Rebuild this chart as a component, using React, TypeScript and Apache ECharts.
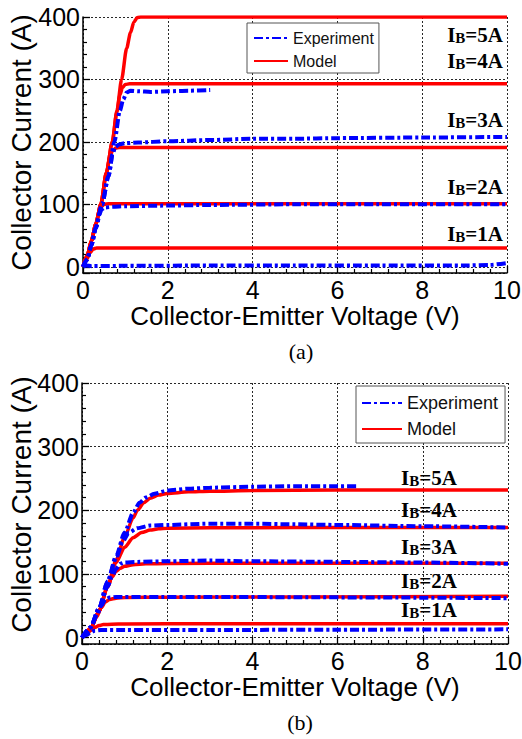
import React, { useEffect, useRef } from 'react';
import * as echarts from 'echarts';

type Pt = [number, number];

// ---------- (a) Model (red) ----------
const aModel5A: Pt[] = [[0, 0], [0.1, 18], [0.2, 42], [0.3, 68], [0.42, 100], [0.55, 150], [0.69, 200], [0.8, 250], [0.91, 300], [1.03, 350], [1.12, 375], [1.2, 392], [1.28, 399], [1.36, 400], [10, 400]];
const aModel4A: Pt[] = [[0, 0], [0.1, 18], [0.2, 42], [0.3, 68], [0.42, 100], [0.55, 150], [0.69, 200], [0.8, 248], [0.87, 275], [0.93, 287], [1.0, 292], [1.1, 293], [10, 293]];
const aModel3A: Pt[] = [[0, 0], [0.1, 18], [0.2, 42], [0.3, 68], [0.42, 100], [0.55, 150], [0.64, 178], [0.7, 186], [0.77, 190], [0.85, 191], [10, 191]];
const aModel2A: Pt[] = [[0, 0], [0.1, 18], [0.2, 42], [0.3, 68], [0.38, 88], [0.43, 96], [0.5, 100], [0.6, 101], [10, 101]];
const aModel1A: Pt[] = [[0, 0], [0.1, 13], [0.17, 23], [0.24, 28.5], [0.32, 30], [10, 30]];

// ---------- (a) Experiment (blue) ----------
const aExp1: Pt[] = [[0, 0], [0.1, 12], [0.2, 35], [0.3, 62], [0.45, 100], [0.6, 145], [0.74, 200], [0.87, 250], [0.95, 268], [1.03, 279], [1.12, 282], [1.3, 281], [1.6, 280], [2, 281], [2.5, 282], [3, 283]];
const aExp2: Pt[] = [[0, 0], [0.1, 12], [0.2, 35], [0.3, 62], [0.45, 100], [0.6, 145], [0.7, 180], [0.76, 192], [0.85, 196], [1.0, 198], [1.3, 199], [2, 201], [3, 203], [4, 205], [5, 205], [6, 206], [8, 207], [10, 208]];
const aExp3: Pt[] = [[0, 0], [0.1, 12], [0.2, 35], [0.3, 62], [0.38, 83], [0.44, 92], [0.52, 95], [0.7, 96], [1, 97], [2, 98], [3, 99], [5, 100], [7, 100], [10, 100]];
const aExp4: Pt[] = [[0, 0], [0.08, 2], [0.2, 1], [1, 1.5], [3, 2], [5, 2], [7, 2], [9, 2], [9.6, 3], [10, 6]];

// ---------- (b) Model (red) ----------
const bModel5A: Pt[] = [[0, 0], [0.2, 14], [0.4, 42], [0.6, 80], [0.8, 122], [1.0, 158], [1.2, 188], [1.3, 200], [1.45, 212], [1.6, 219], [1.8, 224], [2, 226.5], [2.5, 229], [3, 230], [4, 231], [6, 232], [10, 232]];
const bModel4A: Pt[] = [[0, 0], [0.2, 14], [0.4, 42], [0.6, 80], [0.8, 118], [1.0, 142], [1.2, 157], [1.4, 165], [1.6, 169], [1.8, 171], [2, 172], [3, 172.5], [5, 173], [10, 173]];
const bModel3A: Pt[] = [[0, 0], [0.2, 14], [0.4, 42], [0.6, 80], [0.7, 95], [0.8, 104], [0.9, 109], [1.0, 112], [1.2, 114.5], [1.5, 116], [2, 116.5], [4, 117], [10, 117]];
const bModel2A: Pt[] = [[0, 0], [0.2, 14], [0.35, 33], [0.45, 47], [0.55, 56], [0.65, 60], [0.8, 62], [1, 63], [2, 63.5], [5, 64], [10, 65]];
const bModel1A: Pt[] = [[0, 0], [0.1, 5], [0.2, 11], [0.3, 16], [0.4, 19], [0.5, 20.5], [0.7, 21], [1, 21.5], [3, 22], [10, 22]];

// ---------- (b) Experiment (blue) ----------
const bExp5A: Pt[] = [[0, 0], [0.2, 16], [0.4, 46], [0.6, 88], [0.8, 128], [1.0, 165], [1.2, 196], [1.35, 212], [1.5, 220], [1.7, 226], [2, 231], [2.5, 234], [3, 235.5], [4, 237], [5, 238], [6, 238], [6.5, 238]];
const bExp4A: Pt[] = [[0, 0], [0.2, 16], [0.4, 46], [0.6, 88], [0.8, 125], [0.95, 150], [1.1, 165], [1.3, 172], [1.6, 176], [2, 177], [3, 179], [4, 179], [5, 178], [6, 177], [8, 175], [10, 173]];
const bExp3A: Pt[] = [[0, 0], [0.2, 16], [0.4, 46], [0.6, 80], [0.7, 95], [0.8, 108], [0.9, 116], [1.0, 118], [1.3, 119], [2, 120], [3, 121], [4, 120], [6, 119], [8, 118], [10, 116]];
const bExp2A: Pt[] = [[0, 0], [0.2, 16], [0.35, 35], [0.45, 50], [0.55, 60], [0.65, 63], [0.8, 64], [1.5, 64], [3, 64], [5, 63.5], [7, 63], [10, 62]];
const bExp1A: Pt[] = [[0, 0], [0.1, 4], [0.2, 8], [0.3, 11], [0.45, 12], [1, 12], [3, 12], [6, 12.5], [10, 13]];

const legendNames = ['Experiment', 'Model'];
const baseCurrents = ['5A', '4A', '3A', '2A', '1A'];
const xAxisTitle = 'Collector-Emitter Voltage (V)';
const yAxisTitle = 'Collector Current (A)';
const panelTitles = ['(a)', '(b)'];

// layout (pixel positions of annotation labels)
const labelYA = [35, 61, 120, 187, 234];
const labelYB = [478, 510, 547, 581, 610];

const SANS = 'Liberation Sans, Arial, Helvetica, sans-serif';
const SERIF = 'Liberation Serif, Times New Roman, serif';
const RED = '#ff0000';
const BLUE = '#0000ff';

export default function App() {
  const ref = useRef<HTMLDivElement>(null);

  useEffect(() => {
    if (!ref.current) return;
    const chart = echarts.init(ref.current, null, { renderer: 'svg' });

    const gridLineStyle = { color: '#111', width: 1, type: [2, 2], opacity: 0.9 };

    const xAxisBase = (gridIndex: number) => ({
      type: 'value',
      gridIndex,
      min: 0,
      max: 10,
      interval: 2,
      z: 1,
      name: xAxisTitle,
      nameLocation: 'middle',
      nameGap: 30,
      nameMoveOverlap: false,
      nameTextStyle: { fontSize: 26, color: '#000', fontFamily: SANS },
      axisLine: { show: true, onZero: false, lineStyle: { color: '#000', width: 1.5 } },
      axisTick: { show: true, inside: true, length: 7, lineStyle: { color: '#000', width: 1.3 } },
      minorTick: { show: true, splitNumber: 5, length: 4, lineStyle: { color: '#000', width: 1.2 } },
      splitLine: { show: true, lineStyle: gridLineStyle },
      axisLabel: { fontSize: 25, color: '#000', fontFamily: SANS, margin: 4 },
    });

    const yAxisBase = (gridIndex: number, gap: number, pad: number[]) => ({
      type: 'value',
      gridIndex,
      min: -10,
      max: 400,
      splitNumber: 5,
      z: 1,
      name: yAxisTitle,
      nameLocation: 'middle',
      nameGap: gap,
      nameMoveOverlap: false,
      nameTextStyle: { fontSize: 28, color: '#000', fontFamily: SANS, padding: pad },
      axisLine: { show: true, onZero: false, lineStyle: { color: '#000', width: 1.5 } },
      axisTick: { show: true, inside: true, length: 7, lineStyle: { color: '#000', width: 1.3 } },
      minorTick: { show: true, splitNumber: 5, length: 4, lineStyle: { color: '#000', width: 1.2 } },
      splitLine: { show: true, lineStyle: gridLineStyle },
      axisLabel: {
        fontSize: 25,
        color: '#000',
        fontFamily: SANS,
        margin: 3,
        formatter: (v: number) => (v < 0 ? '' : String(v)),
      },
    });

    const modelSeries = (data: Pt[], idx: number) => ({
      type: 'line',
      name: 'Model',
      xAxisIndex: idx,
      yAxisIndex: idx,
      data,
      symbol: 'none',
      smooth: 0.25,
      smoothMonotone: 'x',
      lineStyle: { color: RED, width: 3.5 },
      itemStyle: { color: RED },
      z: 2,
    });
    const expSeries = (data: Pt[], idx: number) => ({
      type: 'line',
      name: 'Experiment',
      xAxisIndex: idx,
      yAxisIndex: idx,
      data,
      symbol: 'none',
      smooth: 0.25,
      smoothMonotone: 'x',
      lineStyle: { color: BLUE, width: 4, type: [9, 3, 3, 3], cap: 'butt' },
      itemStyle: { color: BLUE },
      z: 3,
    });

    const ibLabel = (cur: string, x: number, y: number, align: string) => ({
      type: 'text',
      x,
      y,
      z: 10,
      style: {
        text: `{i|I}{s|B}{i|=${cur}}`,
        align,
        verticalAlign: 'middle',
        rich: {
          i: { fontSize: 21, fontWeight: 'bold', fontFamily: SERIF, fill: '#000', color: '#000', lineHeight: 21, verticalAlign: 'bottom' },
          s: { fontSize: 15, fontWeight: 'bold', fontFamily: SERIF, fill: '#000', color: '#000', lineHeight: 15, verticalAlign: 'bottom' },
        },
      },
    });

    const graphics: any[] = [];
    baseCurrents.forEach((c, i) => graphics.push(ibLabel(c, 503, labelYA[i], 'right')));
    baseCurrents.forEach((c, i) => graphics.push(ibLabel(c, 401, labelYB[i], 'left')));
    graphics.push({
      type: 'text', x: 301, y: 351,
      style: { text: panelTitles[0], font: `22px ${SERIF}`, fill: '#000', align: 'center', verticalAlign: 'middle' },
    });
    graphics.push({
      type: 'text', x: 300, y: 722,
      style: { text: panelTitles[1], font: `22px ${SERIF}`, fill: '#000', align: 'center', verticalAlign: 'middle' },
    });

    const legendBase = {
      data: legendNames,
      orient: 'vertical',
      itemHeight: 14,
      backgroundColor: '#fff',
      borderColor: '#555',
      borderWidth: 1,
      borderRadius: 0,
      selectedMode: false,
      itemStyle: { opacity: 0, borderWidth: 0 },
    };

    const option: any = {
      animation: false,
      grid: [
        { left: 83, top: 17, width: 424, height: 256, containLabel: false, outerBoundsMode: 'none' },
        { left: 82, top: 383, width: 426, height: 261, containLabel: false, outerBoundsMode: 'none' },
      ],
      xAxis: [xAxisBase(0), xAxisBase(1)],
      yAxis: [yAxisBase(0, 48, [0, 0, 0, 5]), yAxisBase(1, 47, [0, 0, 0, 18])],
      legend: [
        {
          ...legendBase,
          left: 247,
          top: 23,
          padding: [7, 5, 4, 6],
          itemGap: 7,
          itemWidth: 34,
          textStyle: { fontSize: 16, color: '#111', fontFamily: SANS },
        },
        {
          ...legendBase,
          left: 356,
          top: 386,
          padding: [8, 7, 5, 5],
          itemGap: 8,
          itemWidth: 40,
          textStyle: { fontSize: 18, color: '#111', fontFamily: SANS },
        },
      ],
      series: [
        modelSeries(aModel5A, 0),
        modelSeries(aModel4A, 0),
        modelSeries(aModel3A, 0),
        modelSeries(aModel2A, 0),
        modelSeries(aModel1A, 0),
        expSeries(aExp1, 0),
        expSeries(aExp2, 0),
        expSeries(aExp3, 0),
        expSeries(aExp4, 0),
        modelSeries(bModel5A, 1),
        modelSeries(bModel4A, 1),
        modelSeries(bModel3A, 1),
        modelSeries(bModel2A, 1),
        modelSeries(bModel1A, 1),
        expSeries(bExp5A, 1),
        expSeries(bExp4A, 1),
        expSeries(bExp3A, 1),
        expSeries(bExp2A, 1),
        expSeries(bExp1A, 1),
      ],
      graphic: graphics,
    };

    chart.setOption(option);
    return () => chart.dispose();
  }, []);

  return (
    <div
      ref={ref}
      style={{ position: 'fixed', left: 0, top: 0, width: 522, height: 739, background: '#fff' }}
    />
  );
}
